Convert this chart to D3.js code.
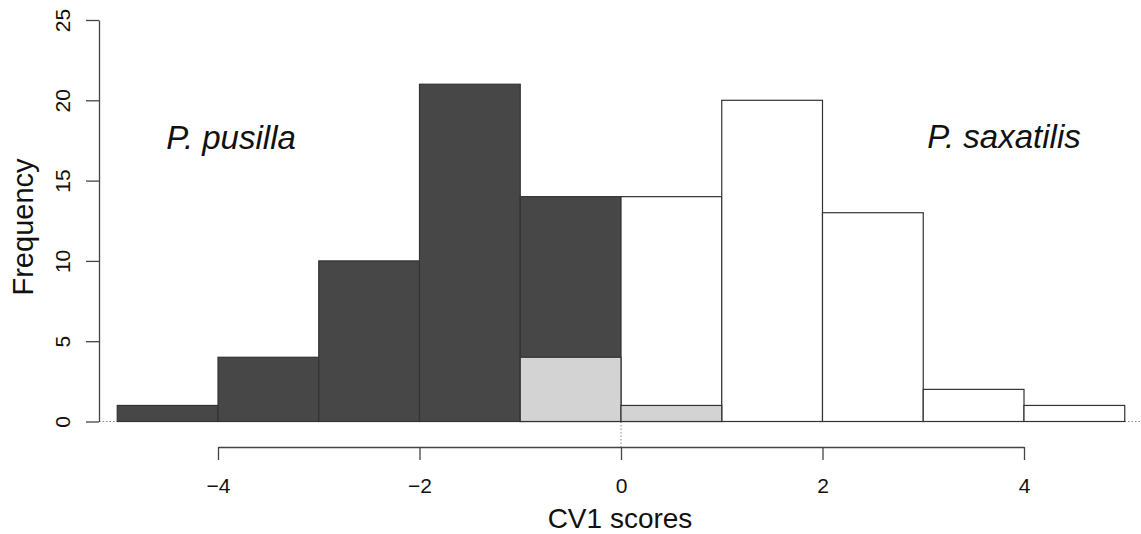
<!DOCTYPE html>
<html>
<head>
<meta charset="utf-8">
<script src="https://cdn.jsdelivr.net/npm/d3@7"></script>
<style>
  body { margin: 0; background: #fff; }
  svg { display: block; font-family: "Liberation Sans", Arial, sans-serif; }
  .bar { stroke: #333; stroke-width: 1.2px; }
  .axis path, .axis line { stroke: #444; stroke-width: 1.3px; }
</style>
</head>
<body>
<svg id="chart" width="1141" height="534"></svg>
<script>
// histogram bins of CV1 scores, width 1 from -5 to 5
const binStarts = [-5, -4, -3, -2, -1, 0, 1, 2, 3, 4];
const pusilla = [1, 4, 10, 21, 14, 0, 0, 0, 0, 0];
const saxatilis = [0, 0, 0, 0, 0, 14, 20, 13, 2, 1];
const misclassified = [0, 0, 0, 0, 4, 1, 0, 0, 0, 0];
const xTicks = [-4, -2, 0, 2, 4];
const yTicks = [0, 5, 10, 15, 20, 25];

const svg = d3.select("#chart");
const width = 1141;

const x = d3.scaleLinear().domain([-4, 4]).range([218, 1024]);
const y = d3.scaleLinear().domain([0, 25]).range([421.5, 20]);
const plotLeft = 99;

// reference lines (dotted)
svg.append("line")
  .attr("x1", plotLeft).attr("x2", width)
  .attr("y1", y(0)).attr("y2", y(0))
  .attr("stroke", "#888").attr("stroke-width", 1)
  .attr("stroke-dasharray", "1.5,2");
svg.append("line")
  .attr("x1", x(0)).attr("x2", x(0))
  .attr("y1", y(0)).attr("y2", 447)
  .attr("stroke", "#888").attr("stroke-width", 1)
  .attr("stroke-dasharray", "1.5,2");

function drawBars(values, fill) {
  svg.append("g")
    .selectAll("rect")
    .data(binStarts.map((b, i) => ({ b, v: values[i] })).filter(d => d.v > 0))
    .enter()
    .append("rect")
    .attr("class", "bar")
    .attr("x", d => x(d.b))
    .attr("width", d => x(d.b + 1) - x(d.b))
    .attr("y", d => y(d.v))
    .attr("height", d => y(0) - y(d.v))
    .attr("fill", fill);
}

drawBars(pusilla, "#474747");
drawBars(saxatilis, "#ffffff");
drawBars(misclassified, "#d3d3d3");

// x axis
const xAxis = svg.append("g")
  .attr("class", "axis")
  .attr("transform", "translate(0,447)")
  .call(d3.axisBottom(x).tickValues(xTicks).tickSize(13).tickSizeOuter(0)
    .tickFormat(d => d < 0 ? "\u2212" + Math.abs(d) : d));
xAxis.selectAll("text")
  .style("font-size", "21px").attr("fill", "#111")
  .attr("dy", 0).attr("y", 46);

// y axis
const yAxis = svg.append("g")
  .attr("class", "axis")
  .attr("transform", `translate(${plotLeft},0)`)
  .call(d3.axisLeft(y).tickValues(yTicks).tickSize(13).tickSizeOuter(0));
yAxis.selectAll(".tick text")
  .style("font-size", "21px").attr("fill", "#111")
  .style("text-anchor", "middle")
  .attr("x", 0).attr("y", 0).attr("dy", 0)
  .attr("transform", "translate(-29,0) rotate(-90)");

// axis titles
svg.append("text")
  .attr("x", x(0) - 1).attr("y", 528)
  .attr("text-anchor", "middle")
  .style("font-size", "28px")
  .attr("fill", "#111")
  .text("CV1 scores");

svg.append("text")
  .attr("transform", "translate(33,227) rotate(-90)")
  .attr("text-anchor", "middle")
  .style("font-size", "29px")
  .attr("fill", "#111")
  .text("Frequency");

// species labels
svg.append("text")
  .attr("x", 231).attr("y", 149)
  .attr("text-anchor", "middle")
  .style("font-size", "33px").style("font-style", "italic")
  .attr("fill", "#111")
  .text("P. pusilla");

svg.append("text")
  .attr("x", 1004).attr("y", 148)
  .attr("text-anchor", "middle")
  .style("font-size", "33px").style("font-style", "italic")
  .attr("fill", "#111")
  .text("P. saxatilis");
</script>
</body>
</html>
